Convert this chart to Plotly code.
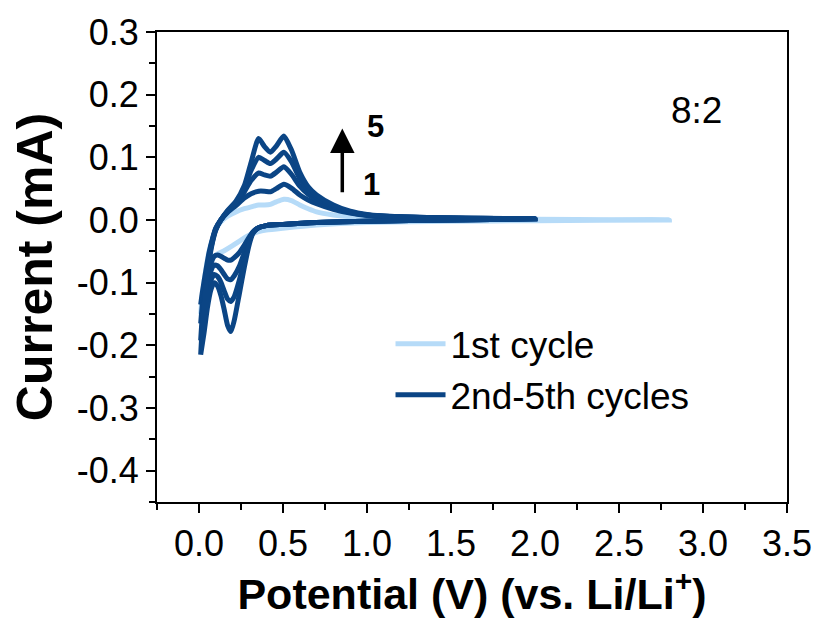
import plotly.graph_objects as go

# ---------------- data ----------------
# shared potential grids for cycles 2-5
V_cath = [2.0, 1.5, 1.0, 0.7, 0.5, 0.4, 0.35, 0.32, 0.3, 0.27, 0.24, 0.21, 0.19,
          0.17, 0.15, 0.13, 0.11, 0.09, 0.07, 0.05, 0.03, 0.01]
V_anod = [0.01, 0.02, 0.04, 0.06, 0.08, 0.1, 0.13, 0.17, 0.22, 0.27, 0.31, 0.355,
          0.39, 0.425, 0.46, 0.505, 0.55, 0.6, 0.65, 0.7, 0.8, 0.9, 1.0, 1.2, 1.5, 2.0]

# 1st cycle (starts at OCV ~2.8 V)
V1_cath = [2.8, 2.0, 1.5, 1.0, 0.7, 0.5, 0.4, 0.35, 0.3, 0.25, 0.2, 0.15, 0.1,
           0.07, 0.04, 0.01]
I1_cath = [0.0, -0.001, -0.002, -0.004, -0.008, -0.013, -0.016, -0.019, -0.024,
           -0.032, -0.041, -0.049, -0.056, -0.066, -0.09, -0.15]
V1_anod = [0.01, 0.02, 0.04, 0.06, 0.08, 0.1, 0.13, 0.17, 0.22, 0.27, 0.31, 0.355,
           0.39, 0.425, 0.46, 0.505, 0.55, 0.6, 0.65, 0.7, 0.8, 0.9, 1.0, 1.2, 1.5,
           2.0, 2.8]
I1_anod = [-0.15, -0.12, -0.08, -0.05, -0.03, -0.015, -0.003, 0.006, 0.013, 0.018,
           0.021, 0.024, 0.024, 0.025, 0.029, 0.033, 0.031, 0.024, 0.018, 0.013,
           0.008, 0.005, 0.004, 0.002, 0.001, 0.001, 0.0]

I2_cath = [0.002, 0.0, -0.002, -0.004, -0.007, -0.009, -0.013, -0.019, -0.027, -0.04,
           -0.052, -0.06, -0.064, -0.064, -0.061, -0.058, -0.056, -0.058, -0.07,
           -0.092, -0.115, -0.135]
I2_anod = [-0.135, -0.115, -0.082, -0.052, -0.03, -0.013, 0.0, 0.012, 0.023, 0.035,
           0.042, 0.046, 0.046, 0.045, 0.05, 0.057, 0.051, 0.04, 0.032, 0.026, 0.017,
           0.011, 0.007, 0.004, 0.003, 0.002]

I3_cath = [0.002, 0.0, -0.002, -0.004, -0.007, -0.009, -0.013, -0.02, -0.031, -0.052,
           -0.074, -0.089, -0.095, -0.094, -0.087, -0.079, -0.073, -0.072, -0.082,
           -0.108, -0.14, -0.165]
I3_anod = [-0.165, -0.135, -0.092, -0.057, -0.032, -0.014, 0.0, 0.013, 0.026, 0.045,
           0.063, 0.075, 0.072, 0.07, 0.076, 0.085, 0.073, 0.054, 0.041, 0.032, 0.02,
           0.012, 0.008, 0.005, 0.003, 0.002]

I4_cath = [0.002, 0.0, -0.002, -0.004, -0.007, -0.009, -0.013, -0.021, -0.034, -0.064,
           -0.096, -0.122, -0.13, -0.126, -0.113, -0.099, -0.09, -0.087, -0.097,
           -0.125, -0.162, -0.192]
I4_anod = [-0.192, -0.152, -0.1, -0.061, -0.034, -0.015, 0.0, 0.014, 0.028, 0.05,
           0.079, 0.1, 0.095, 0.09, 0.097, 0.108, 0.093, 0.066, 0.048, 0.036, 0.022,
           0.013, 0.008, 0.005, 0.003, 0.002]

I5_cath = [0.002, 0.0, -0.002, -0.004, -0.007, -0.009, -0.013, -0.022, -0.038, -0.075,
           -0.118, -0.16, -0.178, -0.168, -0.143, -0.12, -0.105, -0.1, -0.112, -0.14,
           -0.18, -0.215]
I5_anod = [-0.215, -0.17, -0.11, -0.066, -0.036, -0.016, 0.0, 0.015, 0.03, 0.055,
           0.092, 0.13, 0.117, 0.108, 0.118, 0.134, 0.112, 0.076, 0.053, 0.04, 0.024,
           0.014, 0.009, 0.005, 0.003, 0.002]

later_cycles = [(I2_cath, I2_anod), (I3_cath, I3_anod), (I4_cath, I4_anod), (I5_cath, I5_anod)]

x_ticks = [0.0, 0.5, 1.0, 1.5, 2.0, 2.5, 3.0, 3.5]
x_ticktext = ["0.0", "0.5", "1.0", "1.5", "2.0", "2.5", "3.0", "3.5"]
y_ticks = [0.3, 0.2, 0.1, 0.0, -0.1, -0.2, -0.3, -0.4]
y_ticktext = ["0.3", "0.2", "0.1", "0.0", "-0.1", "-0.2", "-0.3", "-0.4"]

LIGHT = "#b6dbf8"
DARK = "#0b4585"
FONT = "Liberation Sans"

fig = go.Figure()
fig.add_trace(go.Scatter(x=V1_cath + V1_anod, y=I1_cath + I1_anod, mode="lines",
                         name="1st cycle", line=dict(color=LIGHT, width=5, shape="spline", smoothing=0.6)))
for k, (ic, ia) in enumerate(later_cycles):
    fig.add_trace(go.Scatter(x=V_cath + V_anod, y=ic + ia, mode="lines",
                             name="2nd-5th cycles", legendgroup="later",
                             showlegend=(k == 0),
                             line=dict(color=DARK, width=5, shape="spline", smoothing=0.6)))

axis_common = dict(showline=True, linecolor="black", linewidth=2, mirror=True,
                   ticks="outside", ticklen=9, tickwidth=2, tickcolor="black",
                   showgrid=False, zeroline=False,
                   tickfont=dict(family=FONT, size=36, color="black"))

fig.update_xaxes(range=[-0.25, 3.5], tickvals=x_ticks, ticktext=x_ticktext,
                 minor=dict(dtick=0.25, tick0=0, ticks="outside", ticklen=6, tickwidth=2, tickcolor="black"),
                 title=dict(text="Potential (V) (vs. Li/Li<sup>+</sup>)",
                            font=dict(family=FONT, size=43, color="black", weight="bold"),
                            standoff=8),
                 **axis_common)
fig.update_yaxes(range=[-0.45, 0.3], tickvals=y_ticks, ticktext=y_ticktext,
                 minor=dict(dtick=0.05, tick0=0, ticks="outside", ticklen=6, tickwidth=2, tickcolor="black"),
                 title=dict(text="Current (mA)",
                            font=dict(family=FONT, size=50, color="black", weight="bold"),
                            standoff=8),
                 **axis_common)

fig.add_annotation(x=2.96, y=0.175, xref="x", yref="y", text="8:2", showarrow=False,
                   font=dict(family=FONT, size=37, color="black"))
fig.add_annotation(x=0.853, y=0.146, ax=0.853, ay=0.042, xref="x", yref="y",
                   axref="x", ayref="y", text="", showarrow=True,
                   arrowhead=2, arrowsize=1.4, arrowwidth=3.5, arrowcolor="black")
fig.add_annotation(x=1.048, y=0.150, xref="x", yref="y", text="5", showarrow=False,
                   font=dict(family=FONT, size=31, color="black", weight="bold"))
fig.add_annotation(x=1.024, y=0.056, xref="x", yref="y", text="1", showarrow=False,
                   font=dict(family=FONT, size=31, color="black", weight="bold"))

fig.update_layout(
    width=824, height=621,
    margin=dict(l=157, r=33, t=29, b=119),
    paper_bgcolor="white", plot_bgcolor="white",
    showlegend=True,
    legend=dict(x=(392 - 157) / 634, y=(502 - 312) / 473, xanchor="left", yanchor="top",
                bgcolor="rgba(0,0,0,0)", borderwidth=0, itemwidth=50,
                font=dict(family=FONT, size=37, color="black"), tracegroupgap=0),
)

fig.write_html("out.html")
